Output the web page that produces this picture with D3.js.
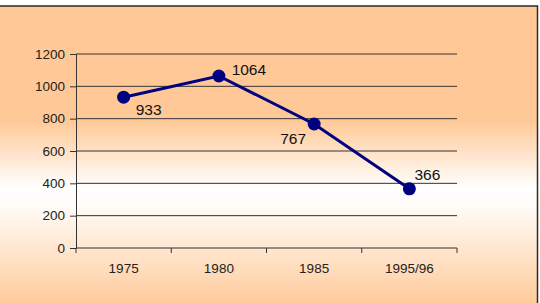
<!DOCTYPE html>
<html><head><meta charset="utf-8">
<script src="https://cdn.jsdelivr.net/npm/d3@7"></script>
<style>html,body{margin:0;padding:0;background:#fff;}svg{display:block;}</style>
</head><body>
<script>
const categories = ["1975", "1980", "1985", "1995/96"];
const values = [933, 1064, 767, 366];
const yTicks = [0, 200, 400, 600, 800, 1000, 1200];

const W = 540, H = 303;
const svg = d3.select("body").append("svg").attr("width", W).attr("height", H);
const defs = svg.append("defs");
const g = defs.append("linearGradient").attr("id","bg").attr("x1",0).attr("y1",0).attr("x2",0).attr("y2",1);
[[0,"#FFC896"],[0.38,"#FFC997"],[0.6,"#FFFFFF"],[0.66,"#FFFCF8"],[1,"#FFC896"]].forEach(s=>
  g.append("stop").attr("offset",s[0]).attr("stop-color",s[1]));

svg.append("rect").attr("x",-2).attr("y",6).attr("width",539.5).attr("height",H).attr("fill","url(#bg)")
  .attr("stroke","#2a2a2a").attr("stroke-width",1.5);

const x0 = 76, x1 = 457, yTop = 54, yBot = 248;
const x = d3.scaleBand().domain(categories).range([x0, x1]);
const y = d3.scaleLinear().domain([0, 1200]).range([yBot, yTop]);

const font = "Liberation Sans, Arial, sans-serif";

// gridlines
svg.append("g").selectAll("line").data(yTicks.filter(d=>d>0)).join("line")
  .attr("x1", x0).attr("x2", x1).attr("y1", d=>y(d)).attr("y2", d=>y(d))
  .attr("stroke","#333").attr("stroke-width",1);

const yAxis = svg.append("g").attr("transform",`translate(${x0},0)`)
  .call(d3.axisLeft(y).tickValues(yTicks).tickFormat(d3.format("d")).tickSize(6).tickPadding(5));
yAxis.select(".domain").attr("stroke","#333");
yAxis.selectAll(".tick line").attr("stroke","#333");
yAxis.selectAll("text").attr("font-family",font).attr("font-size",13.5).attr("fill","#222");

const xAxis = svg.append("g").attr("transform",`translate(0,${yBot})`)
  .call(d3.axisBottom(x).tickSize(0).tickPadding(15));
xAxis.select(".domain").attr("stroke","#333").attr("d",`M${x0},0H${x1}`);
xAxis.selectAll("text").attr("font-family",font).attr("font-size",13.5).attr("fill","#222");
// band boundary ticks
const bounds = categories.map(c=>x(c)).concat([x1]);
xAxis.append("g").selectAll("line").data(bounds).join("line")
  .attr("x1",d=>d).attr("x2",d=>d).attr("y1",0).attr("y2",5).attr("stroke","#333");

const cx = c => x(c) + x.bandwidth()/2;
const data = categories.map((c,i)=>({c, v: values[i]}));
svg.append("path").datum(data)
  .attr("d", d3.line().x(d=>cx(d.c)).y(d=>y(d.v)))
  .attr("fill","none").attr("stroke","#000080").attr("stroke-width",3);
svg.append("g").selectAll("circle").data(data).join("circle")
  .attr("cx", d=>cx(d.c)).attr("cy", d=>y(d.v)).attr("r",6.5).attr("fill","#000080");

const offs = [[25,18],[30,-1],[-21,20],[18,-9]];
svg.append("g").selectAll("text").data(data).join("text")
  .attr("x",(d,i)=>cx(d.c)+offs[i][0]).attr("y",(d,i)=>y(d.v)+offs[i][1])
  .attr("text-anchor","middle").attr("font-family",font)
  .attr("font-size",15.5).attr("fill","#111").text(d=>d.v);
</script>
</body></html>
